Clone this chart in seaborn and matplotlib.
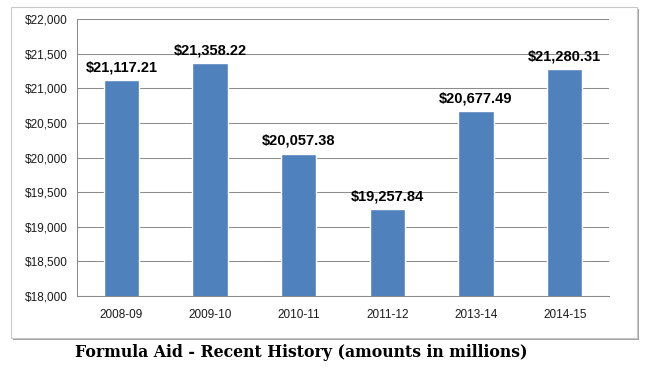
import numpy as np
import pandas as pd
import matplotlib.pyplot as plt
import seaborn as sns
from matplotlib.patches import Rectangle
from matplotlib.ticker import FuncFormatter, FixedLocator

# Data
years = ["2008-09", "2009-10", "2010-11", "2011-12", "2013-14", "2014-15"]
amounts = [21117.21, 21358.22, 20057.38, 19257.84, 20677.49, 21280.31]

df = pd.DataFrame({"year": years, "amount": amounts})

sns.set_style("white")
plt.rcParams['font.family'] = ['Liberation Sans', 'DejaVu Sans']

fig = plt.figure(figsize=(6.5, 3.7), dpi=100)

# Chart frame with shadow
fig.patches.append(Rectangle((0.020, 0.080), 0.963, 0.897, transform=fig.transFigure,
                             facecolor='#a0a0a0', edgecolor='none', zorder=0))
fig.patches.append(Rectangle((0.017, 0.0865), 0.963, 0.8945, transform=fig.transFigure,
                             facecolor='white', edgecolor='#c8c8c8', linewidth=0.8, zorder=1))

ax = fig.add_axes([0.1185, 0.2, 0.8185, 0.7486])
ax.set_zorder(2)
ax.patch.set_alpha(0)

sns.barplot(data=df, x="year", y="amount", color="#4f81bd", width=0.4,
            saturation=1, ax=ax, zorder=3)

ax.set_ylim(18000, 22000)
ax.set_xlim(-0.5, len(years) - 0.5)
ax.set_yticks(np.arange(18000, 22001, 500))
ax.yaxis.set_major_formatter(FuncFormatter(lambda v, p: f"${v:,.0f}"))
ax.grid(axis='y', color='#8c8c8c', linewidth=0.75, zorder=0)
ax.set_axisbelow(True)

for s in ['top', 'right']:
    ax.spines[s].set_visible(False)
for s in ['left', 'bottom']:
    ax.spines[s].set_color('#8c8c8c')
    ax.spines[s].set_linewidth(0.75)

ax.tick_params(axis='y', length=4, color='#8c8c8c', labelsize=8.5, pad=3, labelcolor='#1a1a1a')
ax.tick_params(axis='x', which='major', length=0, labelsize=8.5, pad=9, labelcolor='#1a1a1a')
ax.xaxis.set_minor_locator(FixedLocator(np.arange(-0.5, len(years), 1)))
ax.tick_params(axis='x', which='minor', length=4, color='#8c8c8c')
ax.set_xlabel("")
ax.set_ylabel("")

# Bar value labels
for i, v in enumerate(amounts):
    ax.text(i, v + 80, f"${v:,.2f}", ha='center', va='bottom',
            fontsize=10.5, fontweight='bold', color='black', zorder=4)

fig.text(0.463, 0.047, "Formula Aid - Recent History (amounts in millions)",
         ha='center', va='center', fontsize=11.3, fontweight='bold',
         family=['DejaVu Serif'], color='black')

fig.savefig("out.png", dpi=100)
